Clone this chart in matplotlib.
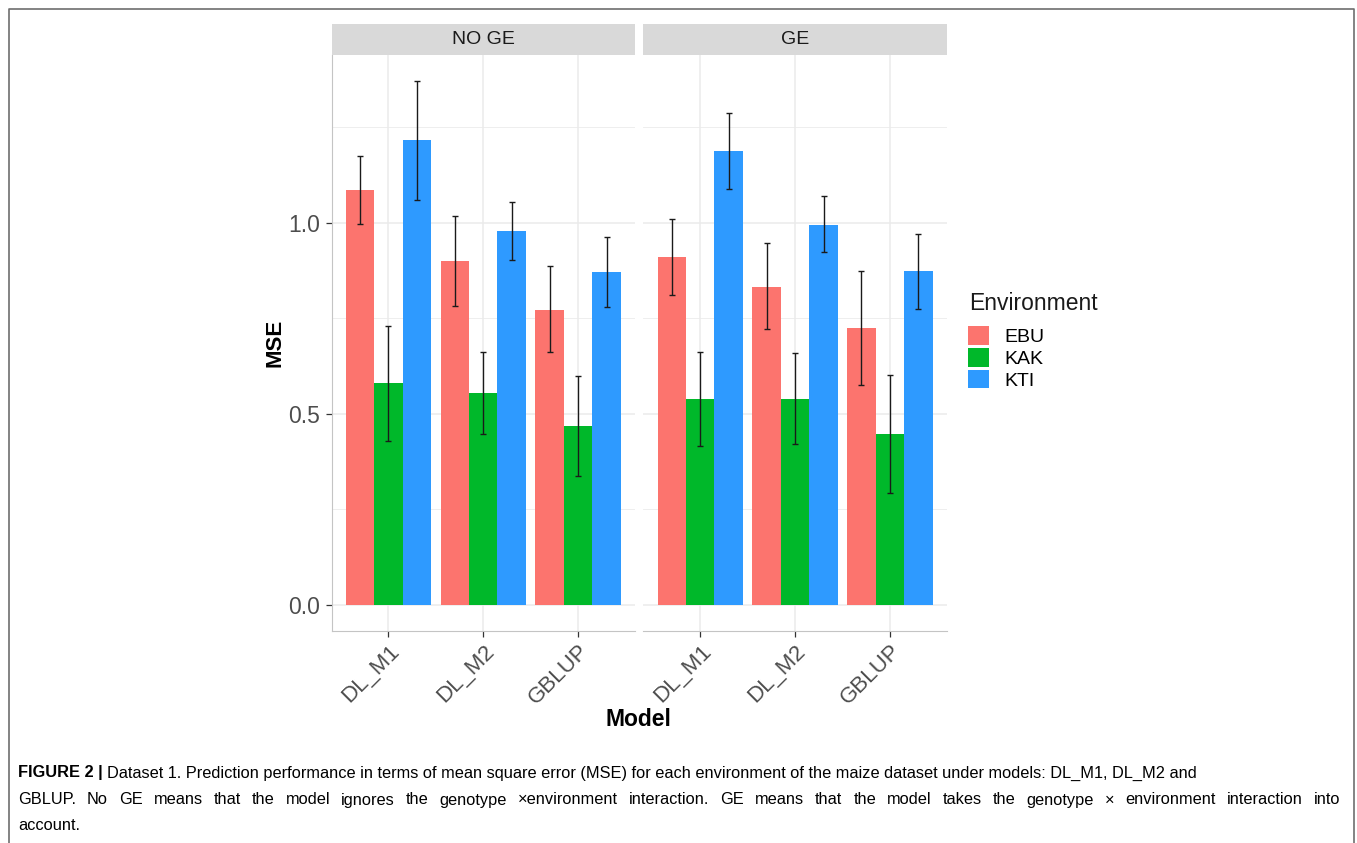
import numpy as np
import matplotlib
matplotlib.use("Agg")
import matplotlib.pyplot as plt
from matplotlib.patches import Patch
from matplotlib.lines import Line2D

plt.rcParams['font.family'] = ['Liberation Sans', 'DejaVu Sans']

# MSE per model / environment, split by interaction term
models = ['DL_M1', 'DL_M2', 'GBLUP']
envs = ['EBU', 'KAK', 'KTI']
facets = ['NO GE', 'GE']
colors = ['#FC746E', '#00B82A', '#2E9AFF']

mse_noge = {
    'EBU': [1.085, 0.899, 0.772],
    'KAK': [0.580, 0.554, 0.467],
    'KTI': [1.216, 0.978, 0.871],
}
lo_noge = {
    'EBU': [0.997, 0.781, 0.661],
    'KAK': [0.429, 0.447, 0.337],
    'KTI': [1.059, 0.901, 0.779],
}
hi_noge = {
    'EBU': [1.174, 1.016, 0.885],
    'KAK': [0.729, 0.660, 0.599],
    'KTI': [1.371, 1.055, 0.961],
}
mse_ge = {
    'EBU': [0.909, 0.832, 0.723],
    'KAK': [0.538, 0.538, 0.446],
    'KTI': [1.187, 0.994, 0.873],
}
lo_ge = {
    'EBU': [0.810, 0.721, 0.575],
    'KAK': [0.415, 0.420, 0.292],
    'KTI': [1.088, 0.922, 0.775],
}
hi_ge = {
    'EBU': [1.009, 0.946, 0.872],
    'KAK': [0.661, 0.658, 0.601],
    'KTI': [1.286, 1.069, 0.971],
}
panels = [(mse_noge, lo_noge, hi_noge), (mse_ge, lo_ge, hi_ge)]

caption = [
    'Dataset 1. Prediction performance in terms of mean square error (MSE) '
    'for each environment of the maize dataset under models: DL_M1, DL_M2 and',
    'GBLUP. No GE means that the model ignores the genotype \u00d7environment '
    'interaction. GE means that the model takes the genotype \u00d7 environment '
    'interaction into',
    'account.',
]

W, H = 1357, 843
fig = plt.figure(figsize=(W / 100, H / 100), dpi=100)
renderer = fig.canvas.get_renderer()

def px(x0, y0, w, h):
    # pixel box (top-left origin) -> figure fraction rect
    return [x0 / W, 1 - (y0 + h) / H, w / W, h / H]

ymax = max(max(v) for p in panels for v in p[2].values())
pad = 0.05 * ymax
panel_x = [331.5, 643.3]
panel_w = 303.5
ax_top, ax_bot = 54.5, 631.0
grid_c = '#EBEBEB'
tick_c = '#4D4D4D'

x = np.arange(1, len(models) + 1)
bw = 0.9 / len(envs)

for i, (name, (mse, lo, hi)) in enumerate(zip(facets, panels)):
    ax = fig.add_axes(px(panel_x[i], ax_top, panel_w, ax_bot - ax_top))
    ax.set_xlim(0.4, len(models) + 0.6)
    ax.set_ylim(-pad, ymax + pad)
    ax.set_yticks([0, 0.5, 1.0])
    ax.set_yticks([0.25, 0.75, 1.25], minor=True)
    ax.set_xticks(x)
    ax.grid(True, which='major', color=grid_c, lw=1.1)
    ax.grid(True, which='minor', axis='y', color=grid_c, lw=0.6)
    ax.set_axisbelow(True)
    for j, env in enumerate(envs):
        xs = x + (j - 1) * bw
        vals = np.array(mse[env])
        ax.bar(xs, vals, width=bw, color=colors[j], lw=0, zorder=2)
        err = [vals - np.array(lo[env]), np.array(hi[env]) - vals]
        ax.errorbar(xs, vals, yerr=err, fmt='none', ecolor='#1A1A1A',
                    elinewidth=1.0, capsize=2.1, capthick=1.0, zorder=3)
    for s in ['top', 'right']:
        ax.spines[s].set_visible(False)
    ax.spines['bottom'].set_color('#C4C4C4')
    ax.spines['left'].set_color('#C4C4C4')
    if i == 0:
        ax.set_yticklabels(['0.0', '0.5', '1.0'], fontsize=16.5, color=tick_c)
        ax.tick_params(axis='y', length=4, color='#333333', width=0.9, pad=4)
    else:
        ax.spines['left'].set_visible(False)
        ax.tick_params(axis='y', length=0, labelleft=False)
    ax.tick_params(axis='y', which='minor', length=0)
    ax.set_xticklabels(models, rotation=45, ha='right', va='top',
                       rotation_mode='anchor', fontsize=16, color=tick_c)
    ax.tick_params(axis='x', length=4, color='#333333', width=0.9, pad=3)

    # facet strip
    st = fig.add_axes(px(panel_x[i], 24.3, panel_w, ax_top - 24.3))
    st.set_facecolor('#D9D9D9')
    st.set_xticks([])
    st.set_yticks([])
    for s in st.spines.values():
        s.set_visible(False)
    st.text(0.5, 0.5, name, ha='center', va='center', fontsize=14,
            color='#1A1A1A', transform=st.transAxes)

fig.text(275 / W, 1 - 343 / H, 'MSE', rotation=90, ha='center', va='center',
         fontsize=16, fontweight='bold')
fig.text(638.7 / W, 1 - 720 / H, 'Model', ha='center', va='center',
         fontsize=16.5, fontweight='bold')

# legend: title drawn on its own, keys below it
fig.text(969 / W, 1 - 304 / H, 'Environment', ha='left', va='center',
         fontsize=16.5, color='#1A1A1A')
handles = [Patch(facecolor=c, edgecolor='none') for c in colors]
fig.legend(handles, envs, loc='upper left',
           bbox_to_anchor=(968 / W, 1 - 326 / H), frameon=False,
           fontsize=14, handlelength=1.1, handleheight=1.1,
           labelspacing=0.1, handletextpad=0.75,
           borderpad=0, borderaxespad=0)

# caption below the chart
cap_fs = 11.8
cap_y = [773, 800, 826]
left, right = 18, 1340
t0 = fig.text(left / W, 1 - cap_y[0] / H, 'FIGURE 2 |', fontsize=cap_fs,
              fontweight='bold', va='center')
bb = t0.get_window_extent(renderer)
fig.text((bb.x1 + 4) / W, 1 - cap_y[0] / H, caption[0], fontsize=cap_fs,
         va='center')

# second line is justified to the right margin
words = caption[1].split(' ')
widths = []
for w in words:
    t = fig.text(0, 0, w, fontsize=cap_fs)
    widths.append(t.get_window_extent(renderer).width)
    t.remove()
gap = (right - left - sum(widths)) / (len(words) - 1)
cx = left
for w, wd in zip(words, widths):
    fig.text(cx / W, 1 - cap_y[1] / H, w, fontsize=cap_fs, va='center')
    cx += wd + gap

fig.text(left / W, 1 - cap_y[2] / H, caption[2], fontsize=cap_fs, va='center')

# page frame
fx0, fx1, fy = 9 / W, 1354 / W, 1 - 9 / H
fig.add_artist(Line2D([fx0, fx0, fx1, fx1], [0, fy, fy, 0],
                      transform=fig.transFigure, color='#6E6E6E', lw=1.2))

fig.savefig('out.png', dpi=100)
